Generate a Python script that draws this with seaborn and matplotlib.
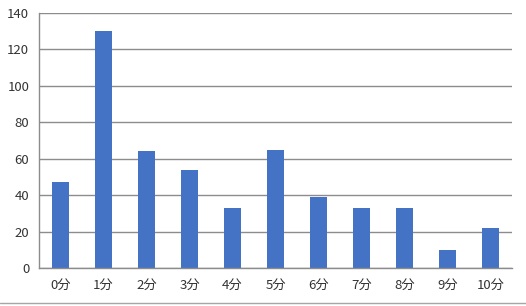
import matplotlib
matplotlib.use("Agg")
import matplotlib.pyplot as plt
import seaborn as sns
import numpy as np
from matplotlib.lines import Line2D

categories = ["0分", "1分", "2分", "3分", "4分", "5分", "6分", "7分", "8分", "9分", "10分"]
values = [47, 130, 64, 54, 33, 65, 39, 33, 33, 10, 22]
yticks = [0, 20, 40, 60, 80, 100, 120, 140]

sns.set_theme(style="white")
plt.rcParams['font.family'] = ['Noto Sans CJK JP', 'DejaVu Sans']

fig = plt.figure(figsize=(5.26, 3.06), dpi=100)
ax = fig.add_axes([39/526, 1-268/306, (512-39)/526, (268-13)/306])

sns.barplot(x=categories, y=values, color="#4472C4", width=0.4, saturation=1,
            edgecolor="#4472C4", linewidth=0, ax=ax, zorder=3)

grid_c = "#8c8c8c"
ax.set_ylim(0, 140)
ax.set_yticks(yticks)
ax.set_xlim(-0.5, len(categories) - 0.5)
ax.yaxis.grid(True, color=grid_c, linewidth=1)
ax.set_axisbelow(True)
for s in ["top", "right"]:
    ax.spines[s].set_visible(False)
ax.spines["left"].set_color(grid_c)
ax.spines["bottom"].set_color(grid_c)
ax.spines["left"].set_linewidth(1)
ax.spines["bottom"].set_linewidth(1)
ax.spines["bottom"].set_zorder(4)

ax.tick_params(axis="y", length=5, color=grid_c, width=1, labelsize=9.5, labelcolor="#333333", pad=2)
ax.tick_params(axis="x", which="major", length=0, labelsize=9.5, labelcolor="#333333", pad=8)
ax.set_xticks(np.arange(-0.5, len(categories)), minor=True)
ax.tick_params(axis="x", which="minor", length=5, color=grid_c, width=1)
ax.set_xlabel("")
ax.set_ylabel("")

fig.add_artist(Line2D([0, 1], [1 - 303/306, 1 - 303/306], color="#a6a6a6", linewidth=1, transform=fig.transFigure))

fig.savefig("out.png", dpi=100)
